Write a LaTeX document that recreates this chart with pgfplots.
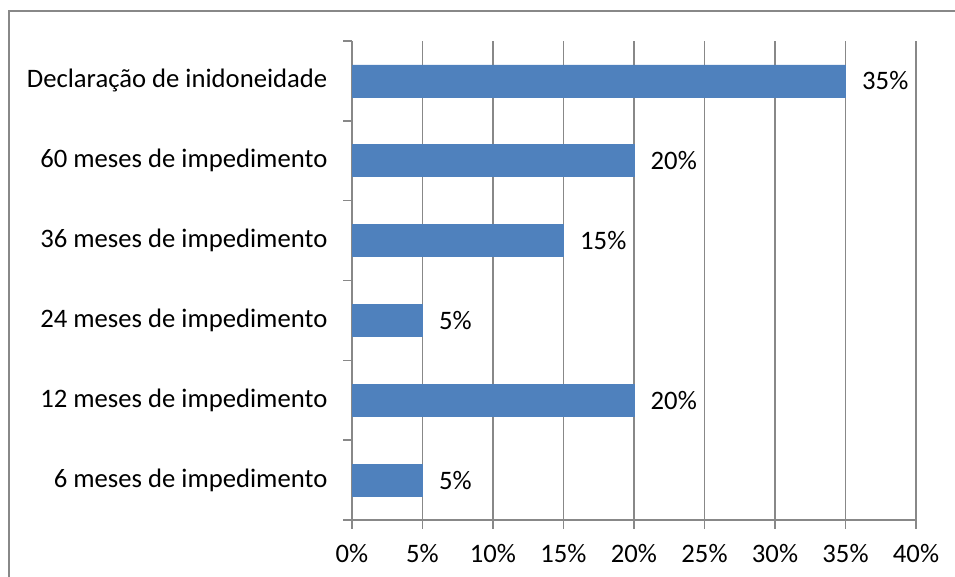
\documentclass[border=0pt]{standalone}
\usepackage{fontspec}
\setmainfont{Carlito}
\usepackage{pgfplots}
\pgfplotsset{compat=1.18}
\definecolor{barblue}{HTML}{4F81BD}
\definecolor{gridgray}{HTML}{888888}
\begin{document}
\begin{tikzpicture}[x=0.75pt,y=0.75pt]
\useasboundingbox (0,0) rectangle (955,577);
\draw[gridgray, line width=1.1pt] (9,-20) -- (9,566) -- (980,566);
\begin{axis}[
  at={(264pt,42.75pt)}, anchor=south west,
  scale only axis, width=423pt, height=359.25pt,
  xbar, bar width=24pt,
  xmin=0, xmax=40, ymin=-0.5, ymax=5.5,
  axis x line*=bottom, axis y line*=left,
  axis line style={gridgray, line width=1.2pt},
  xtick={0,5,...,40},
  xticklabel={\pgfmathprintnumber{\tick}\%},
  /pgf/number format/assume math mode=true,
  ytick={0,...,5},
  yticklabels={6 meses de impedimento,12 meses de impedimento,24 meses de impedimento,36 meses de impedimento,60 meses de impedimento,Declaração de inidoneidade},
  minor ytick={-0.5,0.5,...,5.5},
  minor xtick={0,5,...,40},
  major tick length=0pt, minor tick length=6.5pt,
  tick align=outside,
  minor tick style={gridgray, line width=1.2pt},
  xmajorgrids, major grid style={gridgray, line width=1.2pt},
  tick label style={font=\fontsize{20}{23}\selectfont, text=black},
  xticklabel style={yshift=-15pt},
  yticklabel style={xshift=-15pt},
  nodes near coords={\pgfmathprintnumber{\pgfplotspointmeta}\%},
  nodes near coords style={font=\fontsize{20}{23}\selectfont, text=black, xshift=9pt},
  point meta=x,
]
\addplot[fill=barblue, draw=barblue] coordinates {(5,0) (20,1) (5,2) (15,3) (20,4) (35,5)};
\end{axis}
\end{tikzpicture}
\end{document}
